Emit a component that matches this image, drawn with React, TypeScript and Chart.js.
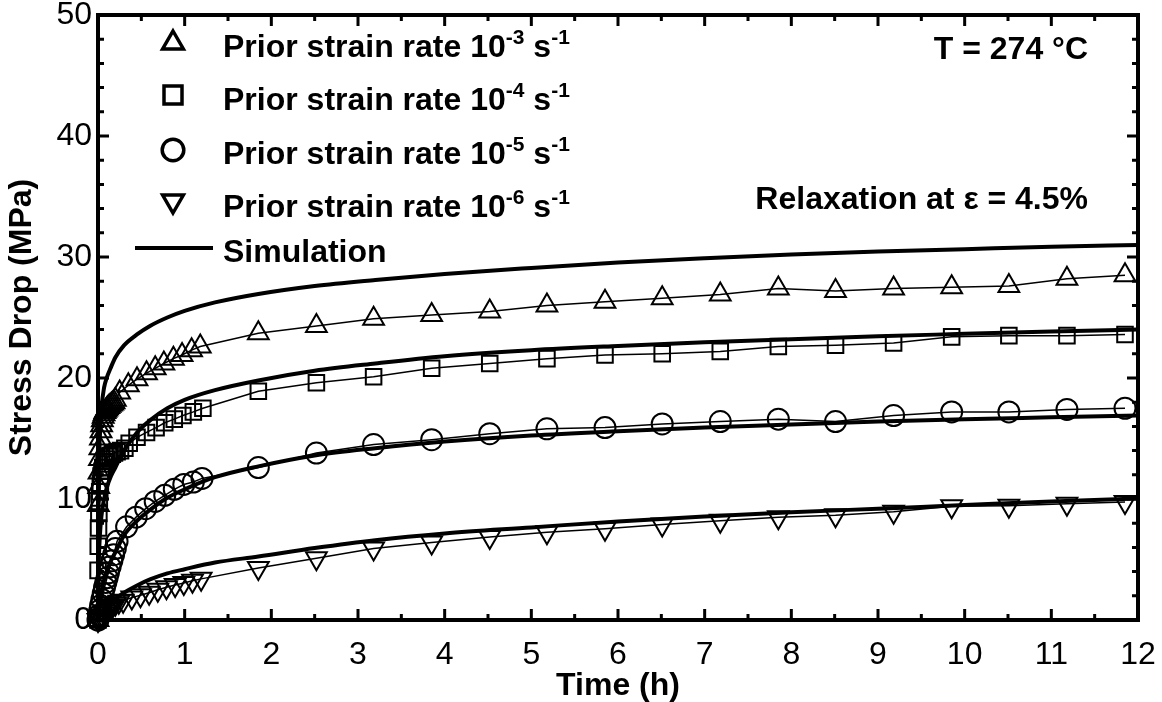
import React, { useEffect, useRef } from 'react';
import { Chart, registerables } from 'chart.js';

Chart.register(...registerables);

const FONT = '"Liberation Sans", Arial, Helvetica, sans-serif';

// ---- Data (Time in h, Stress Drop in MPa) ----
const lateTimes = [1.85, 2.52, 3.18, 3.85, 4.52, 5.18, 5.85, 6.51, 7.18, 7.85, 8.51, 9.18, 9.85, 10.51, 11.18, 11.85];

const earlyTimes3 = [0, 0.004, 0.008, 0.012, 0.017, 0.022, 0.028, 0.035, 0.042, 0.05, 0.06, 0.07, 0.08, 0.09, 0.1, 0.11, 0.125, 0.14, 0.155, 0.17, 0.185, 0.2, 0.25, 0.35, 0.45, 0.56, 0.66, 0.76, 0.87, 0.97, 1.08, 1.18];
const earlyStress3 = [0, 9.5, 11.0, 12.2, 13.3, 14.2, 15.0, 15.6, 16.1, 16.5, 16.8, 17.0, 17.2, 17.3, 17.4, 17.5, 17.6, 17.7, 17.8, 17.9, 18.0, 18.2, 18.8, 19.4, 19.9, 20.4, 20.8, 21.2, 21.6, 21.9, 22.3, 22.6];
const lateStress3 = [23.7, 24.3, 24.9, 25.2, 25.5, 26.0, 26.3, 26.6, 26.9, 27.4, 27.2, 27.4, 27.5, 27.6, 28.2, 28.5];

const earlyTimes4 = [0, 0.001, 0.003, 0.006, 0.01, 0.015, 0.02, 0.027, 0.035, 0.045, 0.055, 0.07, 0.085, 0.1, 0.12, 0.14, 0.165, 0.19, 0.22, 0.26, 0.31, 0.36, 0.45, 0.56, 0.67, 0.77, 0.88, 0.98, 1.1, 1.21];
const earlyStress4 = [0, 4.1, 6.1, 7.6, 8.8, 9.8, 10.6, 11.3, 11.9, 12.3, 12.6, 12.9, 13.1, 13.3, 13.5, 13.6, 13.7, 13.8, 13.9, 14.0, 14.2, 14.6, 15.1, 15.5, 15.9, 16.3, 16.6, 16.9, 17.2, 17.5];
const lateStress4 = [18.9, 19.6, 20.1, 20.8, 21.2, 21.6, 21.9, 22.0, 22.2, 22.6, 22.7, 22.9, 23.4, 23.5, 23.5, 23.6];

const earlyTimes5 = [0, 0.01, 0.02, 0.03, 0.045, 0.06, 0.075, 0.09, 0.105, 0.12, 0.14, 0.16, 0.18, 0.2, 0.22, 0.33, 0.44, 0.55, 0.66, 0.77, 0.88, 0.99, 1.1, 1.2];
const earlyStress5 = [0, 0.4, 0.8, 1.2, 1.7, 2.2, 2.7, 3.1, 3.5, 3.9, 4.4, 4.9, 5.4, 5.9, 6.5, 7.7, 8.5, 9.2, 9.8, 10.3, 10.8, 11.2, 11.4, 11.7];
const lateStress5 = [12.6, 13.8, 14.5, 14.9, 15.4, 15.8, 15.9, 16.2, 16.4, 16.6, 16.4, 16.9, 17.2, 17.2, 17.4, 17.5];

const earlyTimes6 = [0, 0.01, 0.02, 0.035, 0.05, 0.07, 0.09, 0.11, 0.13, 0.15, 0.17, 0.2, 0.24, 0.29, 0.39, 0.49, 0.59, 0.69, 0.79, 0.89, 0.99, 1.09, 1.19];
const earlyStress6 = [0, 0.1, 0.2, 0.3, 0.4, 0.55, 0.7, 0.85, 1.0, 1.1, 1.2, 1.35, 1.5, 1.6, 1.85, 2.05, 2.25, 2.5, 2.7, 2.9, 3.05, 3.25, 3.4];
const lateStress6 = [4.3, 5.1, 5.9, 6.4, 6.85, 7.25, 7.55, 7.9, 8.2, 8.5, 8.65, 8.95, 9.4, 9.45, 9.6, 9.75];

const simTimes = [0, 0.005, 0.01, 0.02, 0.04, 0.07, 0.1, 0.15, 0.2, 0.3, 0.45, 0.6, 0.8, 1, 1.35, 1.85, 2.5, 3.2, 4, 5, 6, 7, 8, 9, 10, 11, 12];
const simStress3 = [0, 8, 12, 15, 17.5, 19.2, 20.0, 20.9, 21.7, 22.7, 23.6, 24.3, 25.0, 25.55, 26.25, 26.95, 27.6, 28.1, 28.6, 29.1, 29.55, 29.9, 30.2, 30.45, 30.65, 30.85, 31.0];
const simStress4 = [0, 3.5, 5, 6.8, 8.6, 10.0, 10.9, 11.9, 12.6, 14.0, 15.5, 16.5, 17.5, 18.2, 19.0, 19.8, 20.6, 21.2, 21.8, 22.3, 22.65, 22.95, 23.2, 23.45, 23.65, 23.85, 24.0];
const simStress5 = [0, 0.6, 1.0, 1.6, 2.4, 3.3, 4.0, 4.9, 5.6, 7.0, 8.2, 9.1, 10.1, 10.8, 11.8, 12.7, 13.6, 14.2, 14.75, 15.25, 15.6, 15.9, 16.15, 16.4, 16.6, 16.75, 16.9];
const simStress6 = [0, 0.1, 0.2, 0.35, 0.6, 0.9, 1.15, 1.45, 1.75, 2.25, 2.85, 3.35, 3.85, 4.2, 4.75, 5.25, 5.95, 6.6, 7.15, 7.65, 8.15, 8.55, 8.9, 9.2, 9.5, 9.8, 10.05];

const legendExponents = ['-3', '-4', '-5', '-6'];
const legendStyles = ['triangle', 'rect', 'circle', 'triangleDown'];
const xTickStep = 1;
const xMinorStep = 0.5;
const yTickStep = 10;
const yMinorStep = 2;

const toPoints = (t: number[], s: number[]) => t.map((x, i) => ({ x, y: s[i] }));

function drawMarker(ctx: CanvasRenderingContext2D, style: string, x: number, y: number, r: number) {
  ctx.beginPath();
  if (style === 'triangle') {
    ctx.moveTo(x, y - r);
    ctx.lineTo(x + r * 0.866, y + r * 0.5);
    ctx.lineTo(x - r * 0.866, y + r * 0.5);
    ctx.closePath();
  } else if (style === 'triangleDown') {
    ctx.moveTo(x, y + r);
    ctx.lineTo(x + r * 0.866, y - r * 0.5);
    ctx.lineTo(x - r * 0.866, y - r * 0.5);
    ctx.closePath();
  } else if (style === 'rect') {
    const h = r * 0.75;
    ctx.rect(x - h, y - h, 2 * h, 2 * h);
  } else {
    ctx.arc(x, y, r * 0.9, 0, Math.PI * 2);
  }
  ctx.stroke();
}

function drawSupText(ctx: CanvasRenderingContext2D, x: number, y: number, parts: { t: string; sup?: boolean }[]) {
  let cx = x;
  for (const p of parts) {
    ctx.font = p.sup ? `bold 21px ${FONT}` : `bold 32px ${FONT}`;
    ctx.fillText(p.t, cx, p.sup ? y - 13 : y);
    cx += ctx.measureText(p.t).width;
  }
}

const framePlugin = {
  id: 'frameAndLegend',
  afterDatasetsDraw(chart: any) {
    const { ctx, chartArea } = chart;
    const { left, right, top, bottom } = chartArea;
    const xs = chart.scales.x;
    const ys = chart.scales.y;
    ctx.save();
    ctx.strokeStyle = '#000';
    ctx.lineWidth = 3;
    const xMax = xs.max;
    for (let i = 0; i * xMinorStep <= xMax + 1e-9; i++) {
      const v = i * xMinorStep;
      const px = xs.getPixelForValue(v);
      const len = Math.abs(v / xTickStep - Math.round(v / xTickStep)) < 1e-9 ? 11 : 6;
      ctx.beginPath();
      ctx.moveTo(px, bottom);
      ctx.lineTo(px, bottom - len);
      ctx.moveTo(px, top);
      ctx.lineTo(px, top + len);
      ctx.stroke();
    }
    const yMax = ys.max;
    for (let i = 0; i * yMinorStep <= yMax + 1e-9; i++) {
      const v = i * yMinorStep;
      const py = ys.getPixelForValue(v);
      const len = Math.abs(v / yTickStep - Math.round(v / yTickStep)) < 1e-9 ? 11 : 6;
      ctx.beginPath();
      ctx.moveTo(left, py);
      ctx.lineTo(left + len, py);
      ctx.moveTo(right, py);
      ctx.lineTo(right - len, py);
      ctx.stroke();
    }
    ctx.lineWidth = 4;
    ctx.strokeRect(left, top, right - left, bottom - top);

    // legend
    ctx.fillStyle = '#000';
    ctx.textAlign = 'left';
    ctx.textBaseline = 'alphabetic';
    const mx = left + 75;
    const tx = left + 125;
    const rowMarkerY = [28, 80, 135, 186];
    const rowBaseY = [41.5, 94.5, 148.5, 201.5];
    ctx.lineWidth = 3.5;
    legendExponents.forEach((e, i) => {
      drawMarker(ctx, legendStyles[i], mx, top + rowMarkerY[i], 12);
      drawSupText(ctx, tx, top + rowBaseY[i], [
        { t: 'Prior strain rate 10' },
        { t: e, sup: true },
        { t: ' s' },
        { t: '-1', sup: true },
      ]);
    });
    ctx.lineWidth = 4;
    ctx.beginPath();
    ctx.moveTo(left + 37, top + 233);
    ctx.lineTo(left + 115, top + 233);
    ctx.stroke();
    ctx.font = `bold 32px ${FONT}`;
    ctx.fillText('Simulation', tx, top + 246.5);

    // annotations
    ctx.textAlign = 'right';
    ctx.fillText('T = 274 \u00B0C', right - 50, top + 43.5);
    ctx.fillText('Relaxation at \u03B5 = 4.5%', right - 50, top + 193.5);
    ctx.restore();
  },
};

export default function App() {
  const canvasRef = useRef<HTMLCanvasElement | null>(null);

  useEffect(() => {
    if (!canvasRef.current) return;
    const dataLine = (label: string, t: number[], s: number[], style: string) => ({
      label,
      data: toPoints(t, s),
      borderColor: '#000',
      borderWidth: 1.5,
      pointStyle: style === 'triangleDown' ? 'triangle' : style,
      rotation: style === 'triangleDown' ? 180 : 0,
      pointRadius: style === 'circle' ? 10.5 : style === 'rect' ? 11 : 12,
      pointBorderWidth: 2,
      pointBorderColor: '#000',
      pointBackgroundColor: 'rgba(0,0,0,0)',
      tension: 0,
      clip: false as any,
    });
    const simLine = (label: string, s: number[]) => ({
      label,
      data: toPoints(simTimes, s),
      borderColor: '#000',
      borderWidth: 4,
      pointRadius: 0,
      cubicInterpolationMode: 'monotone' as const,
      clip: false as any,
    });
    const chart = new Chart(canvasRef.current, {
      type: 'line',
      data: {
        datasets: [
          simLine('Sim 10-3', simStress3),
          simLine('Sim 10-4', simStress4),
          simLine('Sim 10-5', simStress5),
          simLine('Sim 10-6', simStress6),
          dataLine('Prior strain rate 10-3 s-1', [...earlyTimes3, ...lateTimes], [...earlyStress3, ...lateStress3], 'triangle'),
          dataLine('Prior strain rate 10-4 s-1', [...earlyTimes4, ...lateTimes], [...earlyStress4, ...lateStress4], 'rect'),
          dataLine('Prior strain rate 10-5 s-1', [...earlyTimes5, ...lateTimes], [...earlyStress5, ...lateStress5], 'circle'),
          dataLine('Prior strain rate 10-6 s-1', [...earlyTimes6, ...lateTimes], [...earlyStress6, ...lateStress6], 'triangleDown'),
        ] as any,
      },
      options: {
        animation: false,
        responsive: true,
        maintainAspectRatio: false,
        layout: { padding: { left: 0, top: 15, right: 24, bottom: 0 } },
        plugins: { legend: { display: false }, tooltip: { enabled: false } },
        scales: {
          x: {
            type: 'linear',
            min: 0,
            max: 12,
            afterFit: (s: any) => { s.height = 82; s.paddingLeft = 0; s.paddingRight = 0; },
            grid: { display: false, drawTicks: false },
            border: { display: false },
            ticks: { stepSize: xTickStep, color: '#000', padding: 19, maxRotation: 0, autoSkip: false, font: { family: FONT, size: 32, lineHeight: 1 } },
            title: { display: true, text: 'Time (h)', color: '#000', padding: { top: 0, bottom: 0 }, font: { family: FONT, size: 32, weight: 'bold', lineHeight: 1 } },
          },
          y: {
            type: 'linear',
            min: 0,
            max: 50,
            afterFit: (s: any) => { s.width = 98; s.paddingTop = 0; s.paddingBottom = 0; },
            grid: { display: false, drawTicks: false },
            border: { display: false },
            ticks: { stepSize: yTickStep, color: '#000', padding: 6, font: { family: FONT, size: 32, lineHeight: 1 } },
            title: { display: true, text: 'Stress Drop (MPa)', color: '#000', padding: { top: 6, bottom: 0 }, font: { family: FONT, size: 32, weight: 'bold', lineHeight: 1 } },
          },
        },
      } as any,
      plugins: [framePlugin],
    });
    return () => chart.destroy();
  }, []);

  return (
    <div style={{ position: 'fixed', left: 0, top: 0, width: 1162, height: 702, background: '#fff' }}>
      <canvas ref={canvasRef} />
    </div>
  );
}
